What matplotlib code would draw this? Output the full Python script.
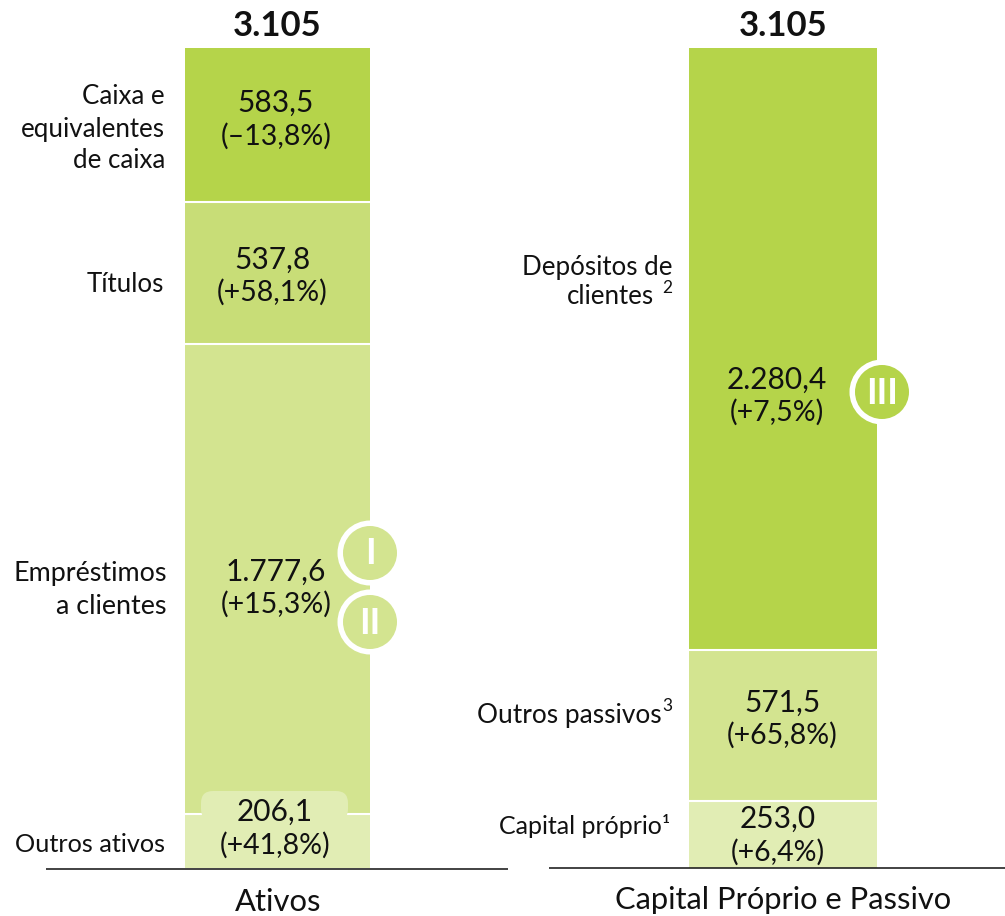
"""Balanco patrimonial: ativos x capital proprio e passivo."""
import matplotlib
matplotlib.use('Agg')
import matplotlib.pyplot as plt
from matplotlib.patches import Circle, FancyBboxPatch

matplotlib.rcParams['font.family'] = ['Lato', 'DejaVu Sans']

total = 3105
ativos_nomes = ['Outros ativos', 'Empréstimos\na clientes', 'Títulos', 'Caixa e\nequivalentes\nde caixa']
ativos_val = [206.1, 1777.6, 537.8, 583.5]
ativos_var = ['+41,8', '+15,3', '+58,1', '–13,8']
passivos_nomes = ['Capital próprio¹', 'Outros passivos', 'Depósitos de\nclientes']
passivos_val = [253.0, 571.5, 2280.4]
passivos_var = ['+6,4', '+65,8', '+7,5']
ativos_cores = ['#e1edb4', '#d3e490', '#c8dd77', '#b5d44a']
passivos_cores = ['#e1edb4', '#d3e490', '#b5d44a']

W, H = 1005, 916
fig = plt.figure(figsize=(W/100, H/100), dpi=100)

# eixo dos dados: zero em y=868 px, total em y=48 px
esc = (868-48)/total
ax = fig.add_axes([0, 0, 1, 1])
ax.set_xlim(0, W); ax.set_ylim(-(H-868)/esc, 868/esc); ax.axis('off')
# camada em pixels para textos e selos
ov = fig.add_axes([0, 0, 1, 1], zorder=3)
ov.set_xlim(0, W); ov.set_ylim(H, 0); ov.axis('off'); ov.patch.set_alpha(0)

def pilha(x0, x1, vals, cores):
    base = 0
    for i, (v, c) in enumerate(zip(vals, cores)):
        ax.bar((x0+x1)/2, v, x1-x0, bottom=base, color=c, lw=0)
        if i > 0:
            ax.hlines(base, x0, x1, colors='white', lw=1.5, zorder=3)
        base += v

pilha(185, 370, ativos_val, ativos_cores)
pilha(689, 877, passivos_val, passivos_cores)

# aba do 206,1 sobre a barra de emprestimos
ov.add_patch(FancyBboxPatch((201, 791), 147, 30, boxstyle="round,pad=0,rounding_size=12",
                            fc=ativos_cores[0], ec='none'))

def fmt(v):
    return f"{v:,.1f}".replace(',', '#').replace('.', ',').replace('#', '.')

DY = 2
def valor(xc, y1, y2, v, var):
    ov.text(xc, y1+DY, fmt(v), ha='center', va='center', fontsize=21.5, color='#111')
    ov.text(xc, y2+DY, f"({var}%)", ha='center', va='center', fontsize=20.5, color='#111')

for xc, y1, y2, v, var in zip((275, 276, 272, 276), (810, 570, 258, 101), (843, 602, 290, 134),
                              ativos_val, ativos_var):
    valor(xc, y1, y2, v, var)
for xc, y1, y2, v, var in zip((778, 782, 777), (817, 701, 378), (850, 733, 410),
                              passivos_val, passivos_var):
    valor(xc, y1, y2, v, var)

# nomes das categorias (linha a linha, alinhados a direita)
def nome(x, ys, txt, fs=18.6):
    for y, linha in zip(ys, txt.split('\n')):
        ov.text(x, y+DY, linha, ha='right', va='center', fontsize=fs, color='#111')

nome(165, (843,), ativos_nomes[0], 18.2)
nome(167, (572, 604), ativos_nomes[1], 19.4)
nome(164, (283,), ativos_nomes[2])
nome(165, (94, 127, 159), ativos_nomes[3])
nome(670, (824,), passivos_nomes[0], 18)
nome(662, (714,), passivos_nomes[1], 18.9)
nome(672, (265,), passivos_nomes[2].split('\n')[0])
nome(654, (295,), passivos_nomes[2].split('\n')[1])
# expoentes das notas
ov.text(672, 706, '3', ha='right', va='center', fontsize=12.5, color='#111')
ov.text(672, 288, '2', ha='right', va='center', fontsize=12.5, color='#111')

# totais
for xc in (277, 783):
    ov.text(xc, 24+DY, fmt(total).replace(',0', ''), ha='center', va='center', fontsize=25,
            weight='bold', color='#111')

# selos
def selo(x, y, txt, cor):
    ov.add_patch(Circle((x, y), 32.5, fc='white', ec='none'))
    ov.add_patch(Circle((x, y), 27, fc=cor, ec='none'))
    ov.text(x, y+1, txt, ha='center', va='center', fontsize=26, weight='bold', color='white')

selo(370, 553, 'I', ativos_cores[1])
selo(370, 622, 'II', ativos_cores[1])
selo(882, 392, 'III', passivos_cores[2])

# linhas de base e titulos
ov.plot([46, 508], [869, 869], color='#222', lw=1.2, solid_capstyle='butt')
ov.plot([549, 1005], [868, 868], color='#222', lw=1.2, solid_capstyle='butt')
ov.text(278, 900+DY, 'Ativos', ha='center', va='center', fontsize=22.3, color='#111')
ov.text(783, 898+DY, 'Capital Próprio e Passivo', ha='center', va='center', fontsize=22.2, color='#111')

fig.savefig('out.png', dpi=100)
